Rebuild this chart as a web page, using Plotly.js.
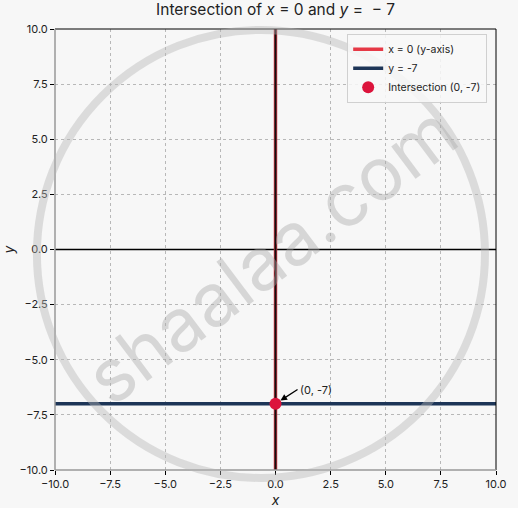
<!DOCTYPE html>
<html>
<head>
<meta charset="utf-8">
<script src="https://cdn.plot.ly/plotly-3.0.1.min.js"></script>
<style>html,body{margin:0;padding:0;background:#f7f7f7;}</style>
</head>
<body>
<div id="chart" style="width:518px;height:508px;"></div>
<script>
// Data
const vlineX = [0, 0];
const vlineY = [-10, 10];
const hlineX = [-10, 10];
const hlineY = [-7, -7];
const axisX = [-10, 10];
const axisY = [0, 0];
const pointX = [0];
const pointY = [-7];
const tickVals = [-10, -7.5, -5, -2.5, 0, 2.5, 5, 7.5, 10];

const FONT = 'Inter, "Open Sans", sans-serif';

const traces = [
  {x: axisX, y: axisY, mode: 'lines', line: {color: '#000000', width: 1.4}, showlegend: false, hoverinfo: 'skip'},
  {x: vlineX, y: vlineY, mode: 'lines', name: 'x = 0 (y-axis)', line: {color: '#e63946', width: 3.5}},
  {x: vlineX, y: vlineY, mode: 'lines', line: {color: '#111111', width: 2}, showlegend: false, hoverinfo: 'skip'},
  {x: hlineX, y: hlineY, mode: 'lines', name: 'y = -7', line: {color: '#1d3557', width: 3.5}},
  {x: pointX, y: pointY, mode: 'markers', name: 'Intersection (0, -7)', marker: {color: '#dc143c', size: 12}}
];

const axisCommon = {
  range: [-10, 10],
  tickvals: tickVals,
  tickformat: '.1f',
  ticks: 'outside',
  ticklen: 4,
  tickcolor: '#000',
  showgrid: true,
  gridcolor: '#a8a8a8',
  griddash: 'dot',
  gridwidth: 0.8,
  zeroline: false,
  showline: false,
  tickfont: {family: FONT, size: 11, color: '#222'}
};

const layout = {
  width: 518,
  height: 508,
  margin: {l: 55, r: 22, t: 29, b: 38},
  paper_bgcolor: '#f7f7f7',
  plot_bgcolor: '#f7f7f7',
  font: {family: FONT, color: '#222'},
  title: {text: 'Intersection of <i>x</i> = 0 and <i>y</i> =  − 7', font: {family: FONT, size: 15.5, color: '#222'}, x: 0.532, xanchor: 'center', y: 0.982, yanchor: 'middle'},
  xaxis: Object.assign({}, axisCommon, {title: {text: '<i>x</i>', font: {family: FONT, size: 14}, standoff: 4}}),
  yaxis: Object.assign({}, axisCommon, {title: {text: '<i>y</i>', font: {family: FONT, size: 14}, standoff: 6}}),
  showlegend: true,
  legend: {x: 0.98, xanchor: 'right', y: 0.989, yanchor: 'top', bgcolor: 'rgba(248,248,248,0.85)', bordercolor: '#d0d0d0', borderwidth: 1, font: {family: FONT, size: 10.5, color: '#222'}, tracegroupgap: 0, itemwidth: 30},
  shapes: [
    {type: 'line', xref: 'paper', yref: 'paper', x0: 0, x1: 1, y0: 1, y1: 1, line: {color: '#000', width: 1}},
    {type: 'line', xref: 'paper', yref: 'paper', x0: 1, x1: 1, y0: 0, y1: 1, line: {color: '#000', width: 1}},
    {type: 'line', xref: 'paper', yref: 'paper', x0: 0, x1: 0, y0: 0, y1: 1, line: {color: '#999', width: 1.5}},
    {type: 'line', xref: 'paper', yref: 'paper', x0: 0, x1: 1, y0: 0, y1: 0, line: {color: '#999', width: 1.5}},
    {type: 'circle', xref: 'paper', yref: 'paper', x0: -0.041, x1: 0.975, y0: -0.018, y1: 0.998, line: {color: 'rgba(180,180,180,0.42)', width: 8}, layer: 'above'}
  ],
  annotations: [
    {x: 0, y: -7, xref: 'x', yref: 'y', ax: 1.0, ay: -6.35, axref: 'x', ayref: 'y', text: '(0, -7)', showarrow: true, arrowhead: 2, arrowsize: 1, arrowwidth: 1.3, arrowcolor: '#000', xanchor: 'left', yanchor: 'middle', standoff: 6, font: {family: FONT, size: 11, color: '#222'}},
    {x: 0.49, y: 0.49, xref: 'paper', yref: 'paper', text: 'shaalaa.com', showarrow: false, textangle: -37, font: {family: FONT, size: 74, color: 'rgba(170,170,170,0.42)'}}
  ]
};

Plotly.newPlot('chart', traces, layout, {displayModeBar: false, staticPlot: true});
</script>
</body>
</html>
